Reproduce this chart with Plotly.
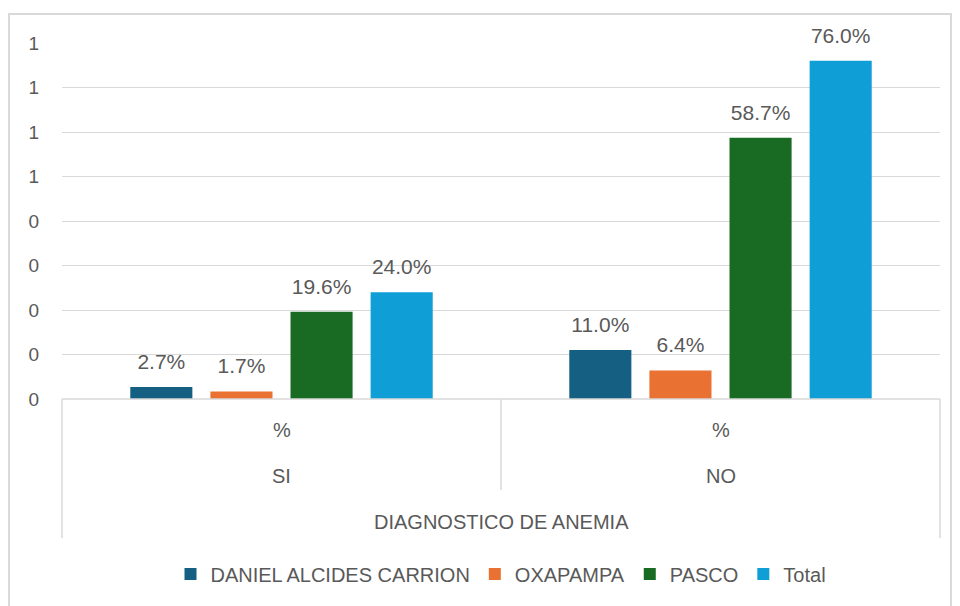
import plotly.graph_objects as go

categories = ["SI", "NO"]
sub_label = ["%", "%"]
axis_title = "DIAGNOSTICO DE ANEMIA"
series_names = ["DANIEL ALCIDES CARRION", "OXAPAMPA", "PASCO", "Total"]
daniel = [0.027, 0.110]
oxapampa = [0.017, 0.064]
pasco = [0.196, 0.587]
total = [0.240, 0.760]
y_tickvals = [0, 0.1, 0.2, 0.3, 0.4, 0.5, 0.6, 0.7, 0.8]
y_ticktext = ["0", "0", "0", "0", "0", "1", "1", "1", "1"]

colors = ["#156082", "#E97132", "#196B24", "#0F9ED5"]
text_color = "#595959"
grid_color = "#D9D9D9"
font_family = "Liberation Sans, Arial, sans-serif"
label_pad = 0.025  # extra gap (data units) between bar top and its label

fig = go.Figure()
for i, (name, vals, col) in enumerate(zip(series_names, [daniel, oxapampa, pasco, total], colors)):
    fig.add_trace(go.Bar(
        x=categories, y=vals, name=name, marker=dict(color=col, line=dict(width=0)),
        offsetgroup=str(i),
    ))
    # invisible spacer bar carrying the data label a little above the real bar
    fig.add_trace(go.Bar(
        x=categories, y=[label_pad] * len(vals), base=vals, showlegend=False,
        marker=dict(color="rgba(0,0,0,0)", line=dict(width=0)), offsetgroup=str(i),
        text=[f"{v*100:.1f}%" for v in vals], textposition="outside",
        textfont=dict(size=21, color=text_color, family=font_family),
        cliponaxis=False, constraintext="none", hoverinfo="skip",
    ))

fig.update_layout(
    width=960, height=606,
    margin=dict(l=54, r=28, t=35, b=215),
    paper_bgcolor="white", plot_bgcolor="white",
    barmode="group", bargap=0.27, bargroupgap=0.225,
    font=dict(family=font_family, color=text_color, size=20),
    legend=dict(orientation="h", x=0.5, xanchor="center", y=-0.4916, yanchor="middle",
                font=dict(size=20, color=text_color), itemwidth=30, tracegroupgap=0),
    showlegend=True,
)
fig.update_yaxes(range=[0, 0.8], tickvals=y_tickvals, ticktext=y_ticktext,
                 showgrid=True, gridcolor=grid_color, gridwidth=1.3, zeroline=False,
                 showline=False, ticks="", ticklabelstandoff=22,
                 tickfont=dict(size=19, color=text_color))
fig.update_xaxes(showticklabels=False, showgrid=False, zeroline=False, showline=False, ticks="")

# category axis labels
for cat, sub in zip(categories, sub_label):
    fig.add_annotation(x=cat, xref="x", y=-0.0871, yref="paper", text=sub, showarrow=False,
                       font=dict(size=20, color=text_color), yanchor="middle")
    fig.add_annotation(x=cat, xref="x", y=-0.2163, yref="paper", text=cat, showarrow=False,
                       font=dict(size=20, color=text_color), yanchor="middle")
fig.add_annotation(x=0.5, xref="paper", y=-0.3455, yref="paper", text=axis_title, showarrow=False,
                   font=dict(size=20, color=text_color), yanchor="middle")

line = dict(color=grid_color, width=1.5)
fig.add_shape(type="line", xref="paper", yref="paper", x0=0, x1=1, y0=0, y1=0, line=line)
fig.add_shape(type="line", xref="paper", yref="paper", x0=0, x1=0, y0=0, y1=-0.3904, line=line)
fig.add_shape(type="line", xref="paper", yref="paper", x0=0.5, x1=0.5, y0=0, y1=-0.2556, line=line)
fig.add_shape(type="line", xref="paper", yref="paper", x0=1, x1=1, y0=0, y1=-0.3904, line=line)
# chart border
fig.add_shape(type="rect", xref="paper", yref="paper", x0=-0.0604, x1=1.0125, y0=1.0815, y1=-0.62,
              line=dict(color=grid_color, width=2), layer="below")

fig.write_html("out.html")
